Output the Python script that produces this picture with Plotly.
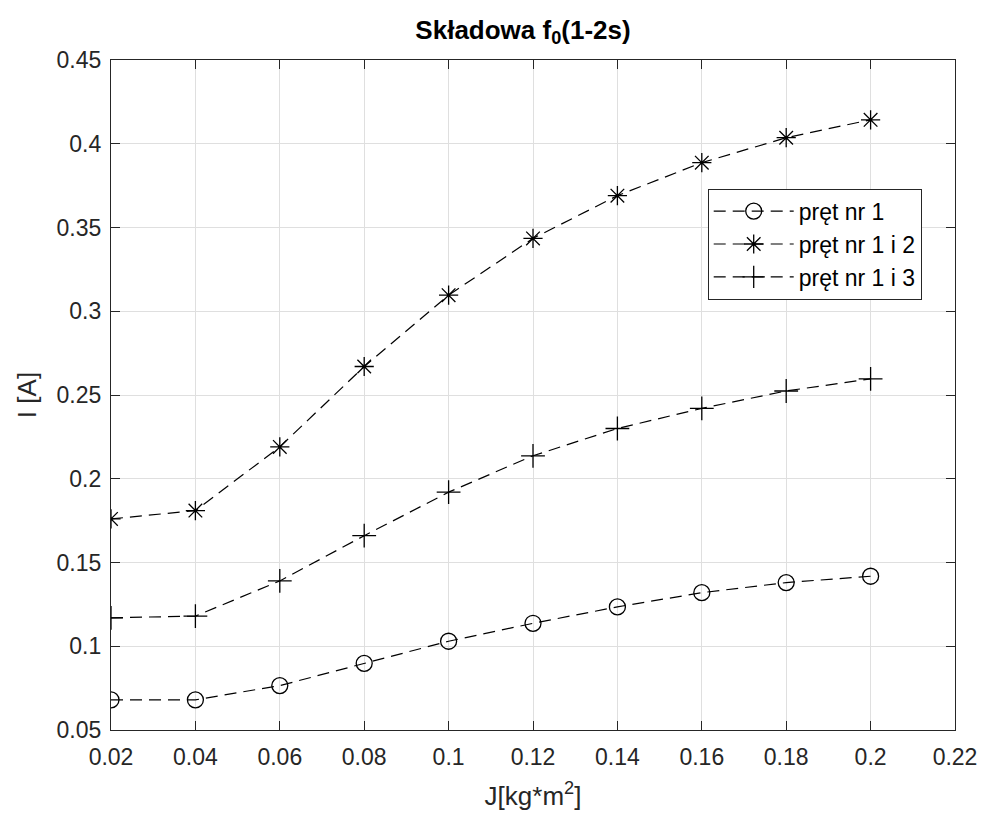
import plotly.graph_objects as go

J = [0.02, 0.04, 0.06, 0.08, 0.10, 0.12, 0.14, 0.16, 0.18, 0.20]
pret1 = [0.068, 0.068, 0.0765, 0.0898, 0.103, 0.1137, 0.1235, 0.132, 0.138, 0.1418]
pret12 = [0.176, 0.181, 0.219, 0.267, 0.3096, 0.3435, 0.369, 0.3887, 0.4036, 0.4143]
pret13 = [0.117, 0.118, 0.139, 0.166, 0.192, 0.2137, 0.230, 0.242, 0.2524, 0.2596]
names = ["pręt nr 1", "pręt nr 1 i 2", "pręt nr 1 i 3"]
xticks = [0.02, 0.04, 0.06, 0.08, 0.1, 0.12, 0.14, 0.16, 0.18, 0.2, 0.22]
yticks = [0.05, 0.1, 0.15, 0.2, 0.25, 0.3, 0.35, 0.4, 0.45]

FONT = "Liberation Sans"
dash = "12px,7px"

fig = go.Figure()
series = [
    (pret1, names[0], "circle-open", 16),
    (pret12, names[1], "asterisk-open", 16),
    (pret13, names[2], "cross-thin-open", 17),
]
for ys, nm, sym, sz in series:
    fig.add_trace(go.Scatter(
        x=J, y=ys, name=nm, mode="lines+markers",
        line=dict(color="black", width=1.2, dash=dash),
        marker=dict(symbol=sym, size=sz, color="black",
                    line=dict(color="black", width=1.3)),
    ))

axis_common = dict(
    showline=True, linecolor="#262626", linewidth=1.2, mirror="ticks",
    ticks="inside", ticklen=9, tickwidth=1.2, tickcolor="#262626",
    showgrid=True, gridcolor="#dfdfdf", gridwidth=1,
    zeroline=False, tickfont=dict(family=FONT, size=23, color="#262626"),
)

# page body adds an 8px margin, so the figure is 8px smaller than the window
fig.update_layout(
    width=981, height=810,
    margin=dict(l=103, r=28, t=52, b=88),
    paper_bgcolor="white", plot_bgcolor="white",
    title=dict(text="<b>Składowa f<sub>0</sub>(1-2s)</b>", x=0.525, xanchor="center",
               y=0.973, yanchor="middle",
               font=dict(family=FONT, size=26, color="black")),
    xaxis=dict(range=[0.02, 0.22], tickvals=xticks,
               ticktext=[f"{v:g}" for v in xticks],
               ticklabelstandoff=6,
               title=dict(text="J[kg*m<sup>2</sup>]", standoff=18,
                          font=dict(family=FONT, size=26, color="#262626")),
               **axis_common),
    yaxis=dict(range=[0.05, 0.45], tickvals=yticks,
               ticktext=[f"{v:g}" for v in yticks],
               ticklabelstandoff=4,
               title=dict(text="I [A]", standoff=12,
                          font=dict(family=FONT, size=26, color="#262626")),
               **axis_common),
    legend=dict(x=0.707, y=0.808, xanchor="left", yanchor="top",
                bgcolor="white", bordercolor="#262626", borderwidth=1,
                font=dict(family=FONT, size=23, color="black"),
                itemwidth=80, tracegroupgap=2),
    showlegend=True,
)

fig.write_html("out.html")
